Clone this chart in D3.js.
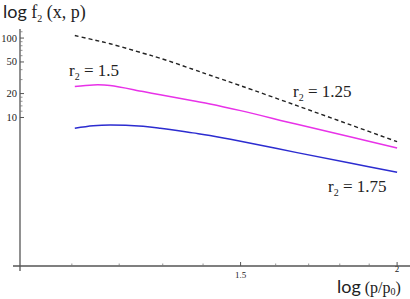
<!DOCTYPE html>
<html>
<head>
<meta charset="utf-8">
<script src="https://cdn.jsdelivr.net/npm/d3@7"></script>
<style>
  body { margin: 0; background: #fff; }
  text { fill: #222; }
</style>
</head>
<body>
<div id="chart"></div>
<script>
// curve values (x = p/p0, y = f2)
const xs = [1.106, 1.144, 1.180, 1.254, 1.294, 1.374, 1.418, 1.5, 1.664, 1.834, 2.0];
const r125 = [107.5, 95.2, 84.8, 64.4, 55.7, 40.5, 34.05, 25.1, 14.07, 8.12, 4.96];
const r150 = [24.5, 25.7, 25.3, 21.2, 19.3, 16.2, 14.8, 12.2, 8.21, 5.72, 4.13];
const r175 = [7.34, 7.89, 8.07, 7.75, 7.34, 6.40, 5.94, 5.03, 3.61, 2.68, 2.04];

const yTickVals = [10, 20, 50, 100];
const yMinor = [12, 14, 16, 18, 30, 40, 60, 70, 80, 90, 120];
const xTickVals = [1.5, 2];
const xMinor = [1.1, 1.2, 1.3, 1.4, 1.6, 1.7, 1.8, 1.9];

const width = 410, height = 299;
const serif = "'Liberation Serif', 'Times New Roman', serif";

const svg = d3.select("#chart").append("svg")
  .attr("width", width)
  .attr("height", height);

const x = d3.scaleLog().domain([1, 2.048]).range([20, 410]);
const y = d3.scaleLog().domain([0.135, 130]).range([266, 29]);

// axes lines
svg.append("line")
  .attr("x1", 13).attr("x2", 410).attr("y1", 266).attr("y2", 266)
  .attr("stroke", "#555").attr("stroke-width", 1.3);
svg.append("line")
  .attr("x1", 20).attr("x2", 20).attr("y1", 29).attr("y2", 271)
  .attr("stroke", "#555").attr("stroke-width", 1.3);

// y ticks
svg.selectAll(".ymaj").data(yTickVals).enter().append("line")
  .attr("x1", 20).attr("x2", 24)
  .attr("y1", d => y(d)).attr("y2", d => y(d))
  .attr("stroke", "#555").attr("stroke-width", 1);
svg.selectAll(".ymin").data(yMinor).enter().append("line")
  .attr("x1", 20).attr("x2", 22.5)
  .attr("y1", d => y(d)).attr("y2", d => y(d))
  .attr("stroke", "#777").attr("stroke-width", 0.8);
svg.selectAll(".ylab").data(yTickVals).enter().append("text")
  .attr("x", 17).attr("y", d => y(d) + 3.5)
  .attr("text-anchor", "end")
  .attr("font-family", serif).attr("font-size", 10.5)
  .text(d => d);

// x ticks
svg.selectAll(".xmaj").data(xTickVals).enter().append("line")
  .attr("x1", d => x(d)).attr("x2", d => x(d))
  .attr("y1", 266).attr("y2", 262)
  .attr("stroke", "#555").attr("stroke-width", 1);
svg.selectAll(".xmin").data(xMinor).enter().append("line")
  .attr("x1", d => x(d)).attr("x2", d => x(d))
  .attr("y1", 266).attr("y2", 263.5)
  .attr("stroke", "#777").attr("stroke-width", 0.8);
svg.selectAll(".xlab").data(xTickVals).enter().append("text")
  .attr("x", d => x(d)).attr("y", d => d === 2 ? 272 : 278)
  .attr("text-anchor", "middle")
  .attr("font-family", serif).attr("font-size", 9)
  .text(d => d);

// curves
const line = vals => d3.line()
  .x((d, i) => x(xs[i]))
  .y(d => y(d))
  .curve(d3.curveCatmullRom)(vals);

svg.append("path").attr("d", line(r125))
  .attr("fill", "none").attr("stroke", "#222").attr("stroke-width", 1.4)
  .attr("stroke-dasharray", "4,3");
svg.append("path").attr("d", line(r150))
  .attr("fill", "none").attr("stroke", "#e832e8").attr("stroke-width", 1.5);
svg.append("path").attr("d", line(r175))
  .attr("fill", "none").attr("stroke", "#2c2cd0").attr("stroke-width", 1.5);

// curve labels
function rLabel(px, py, val) {
  const t = svg.append("text").attr("x", px).attr("y", py)
    .attr("font-family", serif).attr("font-size", 17);
  t.append("tspan").text("r");
  t.append("tspan").attr("font-size", 10).attr("dy", 4).text("2");
  t.append("tspan").attr("dy", -4).text(" = " + val);
}
rLabel(69, 76, "1.5");
rLabel(293, 97, "1.25");
rLabel(328, 192, "1.75");

// title
const title = svg.append("text").attr("x", 3).attr("y", 18);
title.append("tspan").attr("font-family", "Lato, sans-serif").attr("font-size", 18).text("log");
title.append("tspan").attr("font-family", serif).attr("font-size", 18).text(" f");
title.append("tspan").attr("font-family", serif).attr("font-size", 10).attr("dy", 4).text("2");
title.append("tspan").attr("font-family", serif).attr("font-size", 18).attr("dy", -4).text(" (x, p)");

// x label
const xl = svg.append("text").attr("x", 337).attr("y", 293);
xl.append("tspan").attr("font-family", "Lato, sans-serif").attr("font-size", 18).text("log");
xl.append("tspan").attr("font-family", serif).attr("font-size", 16).text(" (p/p");
xl.append("tspan").attr("font-family", serif).attr("font-size", 10).attr("dy", 2).text("0");
xl.append("tspan").attr("font-family", serif).attr("font-size", 16).attr("dy", -2).text(")");
</script>
</body>
</html>
